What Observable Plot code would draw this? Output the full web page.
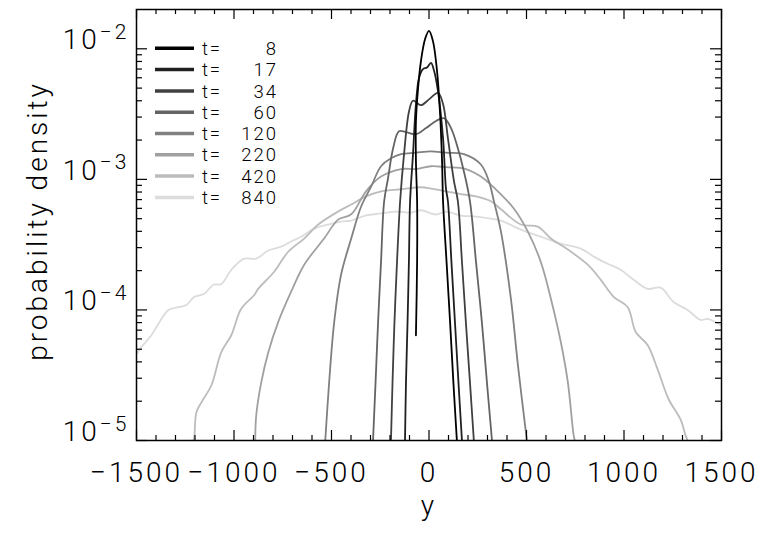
<!DOCTYPE html>
<html><head><meta charset="utf-8">
<script src="https://cdn.jsdelivr.net/npm/d3@7"></script>
<script src="https://cdn.jsdelivr.net/npm/@observablehq/plot@0.6"></script>
<style>
body{margin:0;background:#fff}
#chart svg{font-family:"Roboto","Liberation Sans",sans-serif;font-weight:300}
</style></head><body><div id="chart"></div>
<script>
const times = [8, 17, 34, 60, 120, 220, 420, 840];
const shades = ["#000000","#202020","#404040","#646464","#808080","#a0a0a0","#bcbcbc","#dcdcdc"];

const x_t8 = [-67,-61,-61,-67,-67,-56,-41,-20,0,20,41,56,67,72,90,108,125,143];
const p_t8 = [6.4e-5,2.34e-4,6.8e-4,1.38e-3,2.79e-3,5.0e-3,8.1e-3,0.0119,0.0137,0.0115,6.8e-3,3.34e-3,1.38e-3,6.8e-4,2.34e-4,8.1e-5,2.8e-5,1e-5];
const x_t17 = [-123,-118,-110,-103,-97,-82,-67,-51,-31,-10,10,26,46,72,87,97,115,133,151,169];
const p_t17 = [1e-5,2.8e-5,8.1e-5,2.34e-4,6.8e-4,1.56e-3,3.78e-3,6.0e-3,7.0e-3,7.2e-3,7.8e-3,6.8e-3,4.75e-3,2.07e-3,8.5e-4,6.8e-4,2.34e-4,8.1e-5,2.8e-5,1e-5];
const x_t34 = [-195,-187,-177,-164,-148,-128,-102,-82,-41,0,46,72,97,128,148,169,189,210,230];
const p_t34 = [1e-5,2.8e-5,8.1e-5,2.34e-4,6.8e-4,1.56e-3,3.34e-3,4.0e-3,3.7e-3,4.1e-3,4.6e-3,3.78e-3,2.07e-3,9.7e-4,6.8e-4,2.34e-4,8.1e-5,2.8e-5,1e-5];
const x_t60 = [-287,-274,-261,-246,-230,-210,-184,-154,-118,-67,-15,36,77,113,148,179,210,241,271,297,323];
const p_t60 = [1e-5,2.8e-5,8.1e-5,2.34e-4,6.8e-4,1.02e-3,1.73e-3,2.34e-3,2.3e-3,2.22e-3,2.47e-3,2.8e-3,2.94e-3,2.47e-3,1.73e-3,1.15e-3,6.8e-4,2.34e-4,8.1e-5,2.8e-5,1e-5];
const x_t120 = [-532,-512,-486,-451,-399,-348,-297,-246,-195,-143,-67,10,87,179,266,307,333,369,420,456,502];
const p_t120 = [1e-5,2.8e-5,8.1e-5,1.86e-4,3.52e-4,6.2e-4,8.8e-4,1.26e-3,1.45e-3,1.56e-3,1.6e-3,1.64e-3,1.6e-3,1.56e-3,1.3e-3,9.7e-4,6.8e-4,3.98e-4,1.22e-4,3.78e-5,1e-5];
const x_t220 = [-891,-886,-860,-824,-773,-707,-640,-538,-466,-399,-323,-246,-143,-67,10,87,189,266,369,435,507,573,625,676,712,742,748];
const p_t220 = [1e-5,1.56e-5,2.8e-5,4.75e-5,8.1e-5,1.38e-4,2.22e-4,3.52e-4,4.92e-4,5.4e-4,8.1e-4,1.05e-3,1.2e-3,1.2e-3,1.26e-3,1.24e-3,1.2e-3,1.05e-3,7.67e-4,5.98e-4,3.98e-4,2.34e-4,1.22e-4,5.67e-5,2.8e-5,1.09e-5,1e-5];
const x_t420 = [-1208,-1203,-1193,-1167,-1116,-1065,-1014,-963,-896,-876,-794,-722,-640,-568,-466,-399,-323,-246,-143,-41,10,87,164,241,317,369,471,558,625,712,814,881,947,1019,1060,1121,1172,1229,1290,1316,1326];
const p_t420 = [1e-5,1.09e-5,1.64e-5,1.96e-5,2.65e-5,4.75e-5,6.4e-5,1.02e-4,1.3e-4,1.45e-4,1.96e-4,2.79e-4,3.52e-4,4.51e-4,5.67e-4,6.42e-4,7.4e-4,8.1e-4,8.4e-4,8.7e-4,8.5e-4,8.1e-4,7.7e-4,7.4e-4,6.8e-4,5.9e-4,4.51e-4,4.35e-4,3.52e-4,2.9e-4,2.22e-4,1.7e-4,1.26e-4,1.05e-4,6.78e-5,5.38e-5,3.52e-5,2.07e-5,1.45e-5,1.09e-5,1e-5];
const x_t840 = [-1500,-1475,-1423,-1382,-1336,-1285,-1244,-1203,-1152,-1106,-1065,-1014,-947,-886,-824,-758,-707,-655,-589,-517,-451,-399,-323,-246,-169,-92,-41,36,87,164,241,317,369,471,573,676,778,845,916,983,1050,1121,1188,1254,1326,1393,1428,1495];
const p_t840 = [4.59e-5,5.19e-5,6.42e-5,8.09e-5,1.0e-4,1.05e-4,1.09e-4,1.26e-4,1.33e-4,1.56e-4,1.58e-4,2.03e-4,2.47e-4,2.47e-4,2.85e-4,3.05e-4,3.34e-4,3.64e-4,4.2e-4,4.51e-4,4.75e-4,4.84e-4,5.3e-4,5.48e-4,5.67e-4,5.57e-4,5.8e-4,5.38e-4,5.67e-4,5.28e-4,5.19e-4,5.0e-4,4.84e-4,4.12e-4,3.64e-4,3.22e-4,2.95e-4,2.56e-4,2.26e-4,2.03e-4,1.7e-4,1.45e-4,1.48e-4,1.15e-4,1.0e-4,8.38e-5,8.53e-5,7.67e-5];

const xTicksMajor = [-1500,-1000,-500,0,500,1000,1500];
const yTicksMajor = [1e-5,1e-4,1e-3,1e-2];
const xLabel = "y";
const yLabel = "probability density";

const seriesX = [x_t8,x_t17,x_t34,x_t60,x_t120,x_t220,x_t420,x_t840];
const seriesP = [p_t8,p_t17,p_t34,p_t60,p_t120,p_t220,p_t420,p_t840];
const rows = [];
for (let i = times.length - 1; i >= 0; i--) {
  seriesX[i].forEach((x, j) => rows.push({t: times[i], x, p: seriesP[i][j]}));
}
const xTicksMinor = d3.range(-1500, 1501, 100).filter(v => !xTicksMajor.includes(v));
const yTicksMinor = [];
for (const d of [1e-5,1e-4,1e-3]) for (let k = 2; k <= 9; k++) yTicksMinor.push(k * d);

const W = 763, H = 534, mL = 136, mR = 42, mT = 9, mB = 94;
const iW = W - mL - mR, iH = H - mT - mB;
const FS = 28;

const chart = Plot.plot({
  width: W, height: H,
  marginLeft: mL, marginRight: mR, marginTop: mT, marginBottom: mB,
  style: {fontSize: FS + "px", color: "#000", background: "#fff", overflow: "visible", letterSpacing: "3px"},
  x: {domain: [-1500, 1500]},
  y: {type: "log", domain: [1e-5, 0.02]},
  color: {domain: times, range: shades},
  marks: [
    Plot.line(rows, {x: "x", y: "p", z: "t", stroke: "t", strokeWidth: 1.8, curve: "catmull-rom", clip: true}),
    Plot.frame({stroke: "#000", strokeWidth: 1.5}),
    Plot.tickX(xTicksMajor, {x: d => d, insetTop: iH - 10, stroke: "#000", strokeWidth: 1.2}),
    Plot.tickX(xTicksMinor, {x: d => d, insetTop: iH - 5, stroke: "#000", strokeWidth: 1.2}),
    Plot.tickX(xTicksMajor, {x: d => d, insetBottom: iH - 10, stroke: "#000", strokeWidth: 1.2}),
    Plot.tickX(xTicksMinor, {x: d => d, insetBottom: iH - 5, stroke: "#000", strokeWidth: 1.2}),
    Plot.tickY(yTicksMajor, {y: d => d, insetRight: iW - 11, stroke: "#000", strokeWidth: 1.2}),
    Plot.tickY(yTicksMinor, {y: d => d, insetRight: iW - 6, stroke: "#000", strokeWidth: 1.2}),
    Plot.tickY(yTicksMajor, {y: d => d, insetLeft: iW - 11, stroke: "#000", strokeWidth: 1.2}),
    Plot.tickY(yTicksMinor, {y: d => d, insetLeft: iW - 6, stroke: "#000", strokeWidth: 1.2}),
    Plot.axisX({ticks: xTicksMajor, tickSize: 0, tickPadding: 22, label: null,
      tickFormat: d => d < 0 ? "\u2212" + (-d) : String(d)}),
    Plot.axisY({ticks: yTicksMajor, tickSize: 0, tickPadding: 7, label: null,
      tickFormat: d => "10^" + Math.round(Math.log10(d))}),
    Plot.text([xLabel], {text: d => d, frameAnchor: "bottom", dy: 74}),
    Plot.text([yLabel], {text: d => d, frameAnchor: "left", textAnchor: "middle", dx: -98, dy: -4, rotate: -90})
  ]
});
document.getElementById("chart").appendChild(chart);

const svg = d3.select(chart);
// superscript exponents on the y tick labels
svg.selectAll('g[aria-label="y-axis tick label"] text').each(function() {
  const s = d3.select(this);
  const m = /10\^(-?\d+)/.exec(s.text());
  if (!m) return;
  const e = m[1].replace("-", "\u2212");
  s.text("10").attr("dy", "-0.3em");
  s.append("tspan").attr("dy", "-0.5em").attr("font-size", "0.75em").text(e);
});

// legend
const lg = svg.append("g").attr("aria-label", "legend").attr("letter-spacing", "2px");
times.forEach((t, i) => {
  const yy = mT + 39.3 + i * 21.3;
  lg.append("line").attr("x1", mL + 19).attr("x2", mL + 58).attr("y1", yy).attr("y2", yy)
    .attr("stroke", shades[i]).attr("stroke-width", 3.5);
  lg.append("text").attr("x", mL + 76).attr("y", yy).attr("dy", "0.36em")
    .attr("font-size", 18.5).text("t=");
  lg.append("text").attr("x", mL + 142).attr("y", yy).attr("dy", "0.36em")
    .attr("text-anchor", "end").attr("font-size", 18.5).text(String(t));
});
</script></body></html>
